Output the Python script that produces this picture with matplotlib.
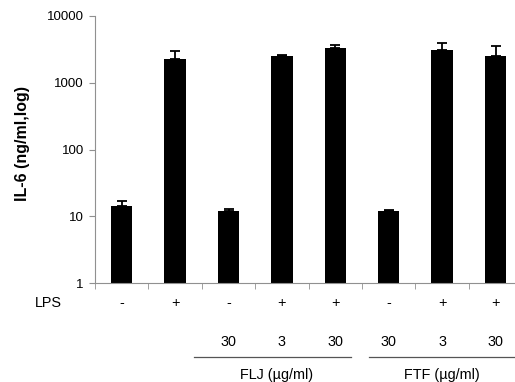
import numpy as np
import matplotlib.pyplot as plt
from matplotlib.ticker import FixedLocator, NullFormatter

plt.rcParams['font.family'] = ['Liberation Sans', 'DejaVu Sans']

# data
lps = ['-', '+', '-', '+', '+', '-', '+', '+']
dose = ['', '', '30', '3', '30', '30', '3', '30']
il6 = [14, 2300, 12, 2500, 3300, 12, 3050, 2500]
il6_err = [3, 700, 0.8, 70, 400, 0.4, 950, 1050]
groups = ['FLJ (\u00b5g/ml)', 'FTF (\u00b5g/ml)']
yticks = [1, 10, 100, 1000, 10000]

fig = plt.figure(figsize=(5.15, 3.82), dpi=100)
ax = fig.add_axes([95/515, 1-283/382, 420/515, 267/382])

x = np.arange(len(il6))
ax.bar(x, il6, width=0.4, color='black', zorder=2)
ax.errorbar(x, il6, yerr=[np.zeros(len(il6)), il6_err], fmt='none',
            ecolor='black', elinewidth=1.3, capsize=3.5, capthick=1.3, zorder=3)

ax.set_yscale('log')
ax.set_ylim(1, 10000)
ax.set_yticks(yticks)
ax.set_yticklabels([str(v) for v in yticks], fontsize=9.5)
ax.yaxis.set_minor_locator(FixedLocator([]))
ax.set_xlim(-0.5, -0.5 + 420/53.4)
ax.set_xticks([])
ax.xaxis.set_minor_locator(FixedLocator(np.arange(len(il6) + 1) - 0.5))
ax.xaxis.set_minor_formatter(NullFormatter())
ax.tick_params(axis='x', which='minor', length=4, color='#909090', direction='out')
ax.tick_params(axis='y', length=4, color='#909090', pad=4)

for s in ['top', 'right']:
    ax.spines[s].set_visible(False)
for s in ['left', 'bottom']:
    ax.spines[s].set_color('#909090')
    ax.spines[s].set_linewidth(0.8)

ax.set_ylabel('IL-6 (ng/ml,log)', fontsize=11.5, fontweight='bold')
ax.yaxis.set_label_coords(-0.155, 0.522)

# rows of labels under the axis
trans = ax.get_xaxis_transform()
def ypos(py):
    # pixel row -> axes fraction
    return (283 - py) / 267

ax.text(-0.5 - (95 - 48.5) / 53.4, ypos(303), 'LPS', fontsize=10.4, ha='center', va='center', transform=trans)
for i in range(len(il6)):
    ax.text(x[i], ypos(303), lps[i], fontsize=10.4, ha='center', va='center', transform=trans)
    if dose[i]:
        ax.text(x[i], ypos(342), dose[i], fontsize=10.4, ha='center', va='center', transform=trans)

line_ranges = [(1.36, 4.29), (4.64, 7.5)]
centers = [2.9, 6.0]
for (a, b), c, g in zip(line_ranges, centers, groups):
    ax.plot([a, b], [ypos(357)] * 2, color='#555555', lw=0.9, transform=trans, clip_on=False)
    ax.text(c, ypos(375), g, fontsize=10.4, ha='center', va='center', transform=trans)

fig.savefig('out.png', dpi=100)
